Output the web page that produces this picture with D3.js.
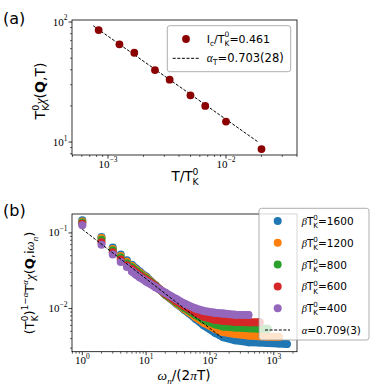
<!DOCTYPE html>
<html>
<head>
<meta charset="utf-8">
<script src="https://cdn.jsdelivr.net/npm/d3@7"></script>
<style>
  body { margin: 0; background: #fff; }
  svg { display: block; }
</style>
</head>
<body>
<script>
// ---- panel (a) data ----
const aTemp = [8.33e-4, 1.25e-3, 1.67e-3, 2.5e-3, 3.33e-3, 5e-3, 6.67e-3, 1e-2, 2e-2];
const aChi = [85.8, 65.2, 55.5, 39.8, 33.1, 24.5, 20.0, 14.8, 8.74];
const aFitTemp = [7.5e-4, 1.86e-2];
const aFitChi = [93, 10.06];

// ---- panel (b) data ----
const nGrid = [1, 2, 3, 4, 5, 6, 7, 8, 10, 14, 20, 30, 40, 60, 80, 120, 160, 250, 400, 600, 800, 1200, 1600];
const beta1600 = [0.147, 0.0886, 0.064, 0.0518, 0.0435, 0.0378, 0.0337, 0.0306, 0.0265, 0.0203, 0.0152, 0.0116, 0.0096, 0.0073, 0.0060, 0.0048, 0.0042, 0.0038, 0.0036, 0.00355, 0.0035, 0.00345, 0.0034];
const beta1200 = [0.142, 0.0855, 0.0615, 0.0495, 0.0415, 0.0362, 0.0324, 0.0295, 0.0257, 0.0201, 0.0153, 0.0118, 0.0099, 0.0077, 0.0065, 0.0054, 0.0049, 0.0046, 0.0044, 0.0043, 0.00425, 0.0042];
const beta800 = [0.137, 0.081, 0.059, 0.0473, 0.0398, 0.0349, 0.0313, 0.0285, 0.0250, 0.0200, 0.0155, 0.0121, 0.0102, 0.0082, 0.0071, 0.0062, 0.0058, 0.0056, 0.0055, 0.0054, 0.0054];
const beta600 = [0.132, 0.0755, 0.0555, 0.0445, 0.0375, 0.0330, 0.0297, 0.0272, 0.0240, 0.0198, 0.0158, 0.0125, 0.0107, 0.0088, 0.0078, 0.0071, 0.0069, 0.0067, 0.0066, 0.0066];
const beta400 = [0.126, 0.070, 0.052, 0.0414, 0.0355, 0.0310, 0.0280, 0.0258, 0.0228, 0.0192, 0.0162, 0.0133, 0.0116, 0.0100, 0.0093, 0.0088, 0.0086, 0.0083, 0.0082];
const betaLabels = ['1600', '1200', '800', '600', '400'];
const bFitN = [1, 155];
const bFitY = [0.112, 0.0041];

const SANS = 'DejaVu Sans', SERIF = 'Liberation Serif';
const colors = ['#1f77b4', '#ff7f0e', '#2ca02c', '#d62728', '#9467bd'];
const series = [beta1600, beta1200, beta800, beta600, beta400];

const svg = d3.select('body').append('svg').attr('width', 374).attr('height', 389);

// mathtext-like label: one <text>, tspans for runs and stacked sup/sub scripts
function rich(parent, parts, size) {
  const g = parent.append('g');
  const text = g.append('text').attr('font-size', size).attr('font-family', SANS);
  let x = 0;
  const span = (str, p, sx, sy, fs) => text.append('tspan')
    .attr('x', sx).attr('y', sy).attr('font-size', fs)
    .attr('font-family', p.serif ? SERIF : SANS)
    .attr('font-style', p.it ? 'italic' : 'normal')
    .attr('font-weight', p.b ? 'bold' : 'normal')
    .text(str);
  for (const p of parts) {
    if (p.t != null) {
      x += span(p.t, p, x, 0, size).node().getComputedTextLength();
    } else {
      let w = 0;
      [['sup', -0.46], ['sub', 0.3]].forEach(([k, dy]) => {
        if (p[k] == null) return;
        w = Math.max(w, span(p[k], p, x, size * dy, size * 0.68).node().getComputedTextLength());
      });
      x += w;
    }
  }
  return { g, w: x };
}
function place(r, x, y, anchor = 'start', rot = 0) {
  const dx = anchor === 'middle' ? -r.w / 2 : anchor === 'end' ? -r.w : 0;
  r.g.attr('transform', `translate(${x},${y}) rotate(${rot}) translate(${dx},0)`);
}

function logTicks(scale) {
  const [a, b] = scale.domain();
  const major = [], minor = [];
  for (let e = Math.floor(Math.log10(a)); e <= Math.ceil(Math.log10(b)); e++) {
    for (let k = 1; k < 10; k++) {
      const v = k * Math.pow(10, e);
      if (v < a * 0.9999 || v > b * 1.0001) continue;
      (k === 1 ? major : minor).push({ v, e });
    }
  }
  return { major, minor };
}

function drawAxes(g, x, y) {
  const [x0, x1] = x.range(), [y0, y1] = y.range();
  const tx = logTicks(x), ty = logTicks(y);
  const tickG = g.append('g').attr('stroke', '#000');
  tx.minor.forEach(t => tickG.append('line').attr('x1', x(t.v)).attr('x2', x(t.v)).attr('y1', y0).attr('y2', y0 + 2).attr('stroke-width', 0.6));
  tx.major.forEach(t => tickG.append('line').attr('x1', x(t.v)).attr('x2', x(t.v)).attr('y1', y0).attr('y2', y0 + 3.5).attr('stroke-width', 0.8));
  ty.minor.forEach(t => tickG.append('line').attr('y1', y(t.v)).attr('y2', y(t.v)).attr('x1', x0).attr('x2', x0 - 2).attr('stroke-width', 0.6));
  ty.major.forEach(t => tickG.append('line').attr('y1', y(t.v)).attr('y2', y(t.v)).attr('x1', x0).attr('x2', x0 - 3.5).attr('stroke-width', 0.8));
  const lab = e => [{ t: '10', serif: true }, { sup: e < 0 ? '\u2212' + (-e) : String(e), serif: true }];
  tx.major.forEach(t => place(rich(g, lab(t.e), 11), x(t.v), y0 + 12.5, 'middle'));
  ty.major.forEach(t => place(rich(g, lab(t.e), 11), x0 - 4.5, y(t.v) + 3.5, 'end'));
  g.append('rect').attr('x', x0).attr('y', y1).attr('width', x1 - x0).attr('height', y0 - y1)
    .attr('fill', 'none').attr('stroke', '#000').attr('stroke-width', 0.8);
}

// ================= panel (a) =================
const ax = d3.scaleLog().domain([4.95e-4, 0.04]).range([72, 297]);
const ay = d3.scaleLog().domain([7.8, 104]).range([155, 20]);
const ga = svg.append('g');

ga.append('path')
  .datum(aFitTemp.map((t, i) => [t, aFitChi[i]]))
  .attr('d', d3.line().x(d => ax(d[0])).y(d => ay(d[1])))
  .attr('fill', 'none').attr('stroke', '#000').attr('stroke-width', 1).attr('stroke-dasharray', '3,1.6');
ga.selectAll('circle.pt').data(aTemp).join('circle')
  .attr('cx', d => ax(d)).attr('cy', (d, i) => ay(aChi[i])).attr('r', 3.9).attr('fill', '#8b0000');
drawAxes(ga, ax, ay);

// legend (a)
ga.append('rect').attr('x', 167.3).attr('y', 25.7).attr('width', 123.4).attr('height', 46).attr('rx', 2.5)
  .attr('fill', '#fff').attr('fill-opacity', 0.8).attr('stroke', '#999').attr('stroke-width', 0.8);
ga.append('circle').attr('cx', 186).attr('cy', 39).attr('r', 3.9).attr('fill', '#8b0000');
ga.append('line').attr('x1', 172.7).attr('x2', 199.3).attr('y1', 58.3).attr('y2', 58.3)
  .attr('stroke', '#000').attr('stroke-width', 1).attr('stroke-dasharray', '3,1.6');
place(rich(ga, [{ t: 'I' }, { sub: 'c' }, { t: '/T' }, { sup: '0', sub: 'K' }, { t: '=0.461' }], 11), 206.7, 42.5);
place(rich(ga, [{ t: '\u03b1', serif: true, it: true }, { sub: 'T' }, { t: '=0.703(28)' }], 11.5), 206.7, 62);

// labels (a)
place(rich(ga, [{ t: 'T/T' }, { sup: '0', sub: 'K' }], 13.5), 185, 181, 'middle');
place(rich(ga, [{ t: 'T' }, { sup: '0', sub: 'K' }, { t: '\u03c7', serif: true, it: true }, { t: '(' }, { t: 'Q', b: true }, { t: ',T)' }], 14), 45, 91, 'middle', -90);
place(rich(ga, [{ t: '(a)' }], 16), 3, 24);

// ================= panel (b) =================
const bx = d3.scaleLog().domain([0.69, 2312]).range([72, 297]);
const by = d3.scaleLog().domain([0.00269, 0.178]).range([351.7, 214]);
const gb = svg.append('g');
const R = 4;

series.forEach((vals, s) => {
  const pts = vals.map((v, i) => [nGrid[i], v]);
  // dense run of markers at large n drawn as a thick band through the read values
  gb.append('path').datum(pts.filter(d => d[0] >= 6))
    .attr('d', d3.line().x(d => bx(d[0])).y(d => by(d[1])))
    .attr('fill', 'none').attr('stroke', colors[s]).attr('stroke-width', 2 * R)
    .attr('stroke-linecap', 'round').attr('stroke-linejoin', 'round');
  gb.append('g').selectAll('circle').data(pts).join('circle')
    .attr('cx', d => bx(d[0])).attr('cy', d => by(d[1])).attr('r', R).attr('fill', colors[s]);
});
gb.append('path')
  .datum(bFitN.map((n, i) => [n, bFitY[i]]))
  .attr('d', d3.line().x(d => bx(d[0])).y(d => by(d[1])))
  .attr('fill', 'none').attr('stroke', '#000').attr('stroke-width', 1).attr('stroke-dasharray', '3,1.6');
drawAxes(gb, bx, by);

// legend (b)
gb.append('rect').attr('x', 259).attr('y', 208.3).attr('width', 110).attr('height', 131.7).attr('rx', 2.5)
  .attr('fill', '#fff').attr('fill-opacity', 0.8).attr('stroke', '#999').attr('stroke-width', 0.8);
const rowY = d3.scaleLinear().domain([0, 5]).range([221, 330]);
betaLabels.forEach((lab, i) => {
  gb.append('circle').attr('cx', 277.7).attr('cy', rowY(i)).attr('r', R).attr('fill', colors[i]);
  place(rich(gb, [{ t: '\u03b2', serif: true, it: true }, { t: 'T' }, { sup: '0', sub: 'K' }, { t: '=' + lab }], 10.5), 301.7, rowY(i) + 4);
});
gb.append('line').attr('x1', 265).attr('x2', 290).attr('y1', rowY(5)).attr('y2', rowY(5))
  .attr('stroke', '#000').attr('stroke-width', 1).attr('stroke-dasharray', '3,1.6');
place(rich(gb, [{ t: '\u03b1', serif: true, it: true }, { t: '=0.709(3)' }], 10.5), 301.7, rowY(5) + 4);

// labels (b)
place(rich(gb, [{ t: '\u03c9', serif: true, it: true }, { sub: 'n', serif: true, it: true }, { t: '/(2' }, { t: '\u03c0', serif: true, it: true }, { t: 'T)' }], 13.5), 184, 380, 'middle');
place(rich(gb, [{ t: '(T' }, { sup: '0', sub: 'K' }, { t: ')' }, { sup: '1\u2212' }, { sup: '\u03b1', serif: true, it: true },
  { t: 'T' }, { sup: '\u03b1', serif: true, it: true }, { t: '\u03c7', serif: true, it: true }, { t: '(' }, { t: 'Q', b: true },
  { t: ',i' }, { t: '\u03c9', serif: true, it: true }, { sub: 'n', serif: true, it: true }, { t: ')' }], 13), 34, 283, 'middle', -90);
place(rich(gb, [{ t: '(b)' }], 16), 3, 216);
</script>
</body>
</html>
